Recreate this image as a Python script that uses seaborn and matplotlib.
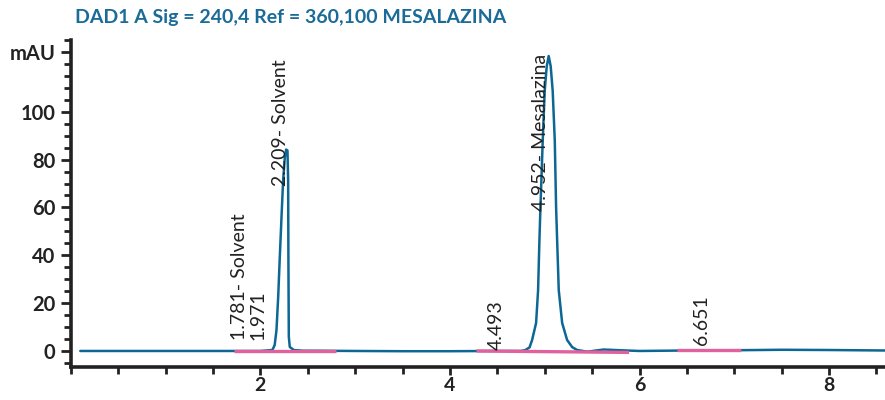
import matplotlib
matplotlib.use("Agg")
import matplotlib.pyplot as plt
from matplotlib.ticker import MultipleLocator, FixedLocator, FixedFormatter
import pandas as pd
import seaborn as sns

# DAD1 A signal (time in min, absorbance in mAU)
time_min = [0.10, 1.00, 1.72, 2.00, 2.127, 2.151, 2.170, 2.188, 2.205, 2.223,
            2.240, 2.258, 2.272, 2.286, 2.293, 2.296, 2.300, 2.310, 2.352,
            2.45, 2.60, 3.00, 3.50, 4.00, 4.50, 4.75, 4.796, 4.84, 4.867,
            4.909, 4.930, 4.944, 4.955, 4.979, 5.000, 5.021, 5.042, 5.063,
            5.084, 5.106, 5.120, 5.131, 5.148, 5.184, 5.236, 5.29, 5.342,
            5.45, 5.62, 5.80, 6.00, 6.50, 7.00, 7.50, 8.00, 8.59]
signal_mau = [0.0, 0.0, 0.0, 0.0, 0.4, 2.5, 8.75, 22.6, 39.3, 56.0,
              71.3, 81.0, 84.2, 83.8, 71.3, 36.7, 6.0, 1.7, 0.4,
              0.1, 0.1, 0.0, -0.1, -0.1, 0.0, 0.0, 0.4, 1.5, 4.6,
              11.7, 25.4, 46.3, 60.0, 88.0, 108.8, 119.0, 123.3, 119.0,
              108.8, 88.0, 60.0, 46.3, 25.4, 11.7, 4.6, 1.6, 0.4,
              -0.3, 0.6, 0.3, 0.0, 0.2, 0.3, 0.5, 0.4, 0.2]

# integration baselines: start/end time and level
base_start_t = [1.72, 4.28, 6.40]
base_end_t = [2.80, 5.89, 7.07]
base_start_v = [0.0, 0.0, 0.3]
base_end_v = [0.0, -0.6, 0.3]

# peak annotations
peak_times = [1.781, 1.971, 2.209, 4.493, 4.952, 6.651]
peak_names = ["Solvent", "", "Solvent", "", "Mesalazina", ""]
label_levels = [4.5, 4.5, 69.0, 0.5, 58.5, 2.5]

title_text = "DAD1 A Sig = 240,4 Ref = 360,100 MESALAZINA"
y_major = [0, 20, 40, 60, 80, 100, 125]
y_major_labels = ["0", "20", "40", "60", "80", "100", "mAU"]
x_major = [2, 4, 6, 8]

sns.set_style("ticks")
plt.rcParams["font.family"] = ["Lato", "DejaVu Sans"]

line_color = "#0c6794"
base_color = "#e0619e"
text_color = "#222222"

fig = plt.figure(figsize=(8.85, 4.0), dpi=100)
ax = fig.add_axes([0.080, 0.0825, 0.920, 0.8175])

df = pd.DataFrame({"time": time_min, "mAU": signal_mau})
sns.lineplot(data=df, x="time", y="mAU", ax=ax, color=line_color,
             linewidth=1.8, sort=False, estimator=None, zorder=3)

for t0, t1, v0, v1 in zip(base_start_t, base_end_t, base_start_v, base_end_v):
    ax.plot([t0, t1], [v0, v1], color=base_color, linewidth=2.4,
            solid_capstyle="butt", zorder=4)

for t, name, lvl in zip(peak_times, peak_names, label_levels):
    txt = f"{t:.3f}- {name}" if name else f"{t:.3f}"
    ax.text(t, lvl, txt, rotation=90, ha="center", va="bottom",
            fontsize=14, color=text_color, zorder=5)

ax.set_xlim(0.0, 8.59)
ax.set_ylim(-6.7, 130)

ax.xaxis.set_major_locator(FixedLocator(x_major))
ax.xaxis.set_minor_locator(MultipleLocator(0.5))
ax.yaxis.set_major_locator(FixedLocator(y_major))
ax.yaxis.set_major_formatter(FixedFormatter(y_major_labels))
ax.yaxis.set_minor_locator(MultipleLocator(5))

ax.tick_params(axis="y", which="major", length=7, width=2.0,
               labelsize=14.5, colors=text_color, pad=4)
ax.tick_params(axis="x", which="major", length=6, width=2.0,
               labelsize=14, colors=text_color, pad=1)
ax.tick_params(axis="both", which="minor", length=5, width=2.0,
               colors=text_color)
for lab in ax.get_xticklabels() + ax.get_yticklabels():
    lab.set_fontweight("bold")

for side in ("top", "right"):
    ax.spines[side].set_visible(False)
for side in ("left", "bottom"):
    ax.spines[side].set_linewidth(2.6)
    ax.spines[side].set_color(text_color)

ax.set_xlabel("")
ax.set_ylabel("")

fig.text(0.085, 0.955, title_text, ha="left", va="center",
         fontsize=14, fontweight="bold", color="#1b6b98")

fig.savefig("out.png", dpi=100)
